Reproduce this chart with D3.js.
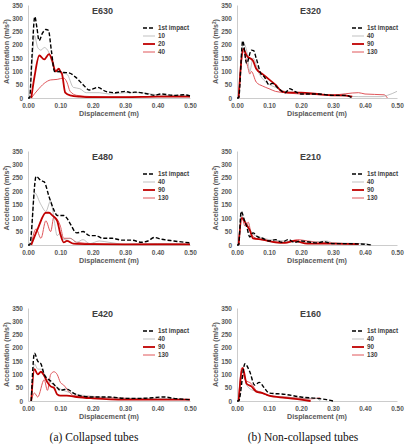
<!DOCTYPE html>
<html>
<head>
<meta charset="utf-8">
<script src="https://cdn.jsdelivr.net/npm/d3@7"></script>
<style>
  body { margin:0; background:#fff; }
  svg { display:block; }
  .tick text { font-family:"Liberation Sans", Arial, sans-serif; font-weight:bold; fill:#595959; font-size:6.5px; }
  .axtitle { font-family:"Liberation Sans", Arial, sans-serif; font-weight:bold; fill:#595959; font-size:7.2px; }
  .ptitle { font-family:"Liberation Sans", Arial, sans-serif; font-weight:bold; fill:#404040; font-size:9px; }
  .leg { font-family:"Liberation Sans", Arial, sans-serif; font-weight:bold; fill:#404040; font-size:6.3px; }
  .cap { font-family:"Liberation Serif", "Times New Roman", serif; font-size:11.5px; fill:#111; }
</style>
</head>
<body>
<script>
// tick values
const xTicks = [0, 0.1, 0.2, 0.3, 0.4, 0.5]
const yTicks = [0, 50, 100, 150, 200, 250, 300, 350]

// panel names and legend labels
const titles = ["E630", "E320", "E480", "E210", "E420", "E160"]
const legendA = ["1st impact", "10", "20", "40"]
const legendB = ["1st impact", "40", "90", "130"]

// E630 (collapsed)
const e630_first = [[0,0],[0.005,0],[0.012,150],[0.021,306],[0.028,260],[0.034,216],[0.045,245],[0.055,258],[0.063,255],[0.072,180],[0.082,100],[0.098,100],[0.11,96],[0.125,95],[0.15,75],[0.17,50],[0.19,30],[0.215,40],[0.24,25],[0.27,20],[0.3,25],[0.32,20],[0.33,22],[0.37,15],[0.39,10],[0.41,15],[0.45,10],[0.48,12],[0.5,8]]
const e630_10 = [[0.005,0],[0.012,120],[0.02,235],[0.03,190],[0.04,180],[0.05,190],[0.065,170],[0.075,130],[0.085,100],[0.1,95],[0.12,90],[0.14,40],[0.16,35],[0.18,20],[0.22,20],[0.25,15],[0.3,20],[0.35,20],[0.38,15],[0.42,10],[0.5,10]]
const e630_20 = [[0.01,0],[0.02,80],[0.035,160],[0.05,145],[0.065,165],[0.075,140],[0.085,100],[0.095,110],[0.1,100],[0.105,90],[0.115,20],[0.13,10],[0.16,5],[0.2,3],[0.3,3],[0.4,5],[0.5,5]]
const e630_40 = [[0.01,0],[0.03,30],[0.05,55],[0.07,68],[0.09,70],[0.11,75],[0.12,60],[0.13,25],[0.15,10],[0.2,5],[0.3,3],[0.45,8],[0.5,5]]

// E320 (non-collapsed)
const e320_first = [[0,0],[0.005,0],[0.018,215],[0.03,130],[0.045,180],[0.052,178],[0.06,150],[0.075,90],[0.085,80],[0.1,50],[0.11,55],[0.13,35],[0.15,20],[0.165,35],[0.18,25],[0.2,15],[0.25,15],[0.3,10],[0.34,10],[0.36,0]]
const e320_40 = [[0.005,0],[0.02,205],[0.03,180],[0.04,100],[0.05,150],[0.07,90],[0.09,60],[0.12,40],[0.15,25],[0.2,20],[0.3,10],[0.38,5],[0.45,5],[0.47,10],[0.5,25]]
const e320_90 = [[0.005,0],[0.02,185],[0.03,160],[0.05,140],[0.06,110],[0.08,90],[0.1,70],[0.12,50],[0.14,25],[0.16,20],[0.2,20],[0.25,15],[0.3,10],[0.33,10],[0.36,5]]
const e320_130 = [[0.005,0],[0.02,175],[0.035,110],[0.04,90],[0.045,100],[0.06,60],[0.08,45],[0.1,35],[0.12,25],[0.15,20],[0.2,15],[0.3,12],[0.38,20],[0.4,15],[0.46,12],[0.47,0]]

// E480 (collapsed)
const e480_first = [[0,0],[0.005,0],[0.025,255],[0.04,240],[0.05,235],[0.065,180],[0.08,130],[0.09,110],[0.11,110],[0.12,100],[0.13,80],[0.15,45],[0.17,50],[0.19,35],[0.21,35],[0.23,25],[0.26,25],[0.29,18],[0.32,18],[0.35,10],[0.37,15],[0.39,28],[0.41,22],[0.45,15],[0.5,8]]
const e480_40 = [[0.01,0],[0.02,195],[0.04,150],[0.055,125],[0.07,165],[0.08,100],[0.09,35],[0.1,45],[0.11,20],[0.13,25],[0.15,10],[0.17,20],[0.19,5],[0.22,15],[0.25,10],[0.3,3],[0.4,5],[0.5,3]]
const e480_90 = [[0.01,0],[0.03,60],[0.055,120],[0.065,120],[0.075,110],[0.09,90],[0.1,40],[0.11,10],[0.12,15],[0.14,5],[0.2,3],[0.3,2],[0.5,2]]
const e480_130 = [[0.01,0],[0.025,60],[0.04,25],[0.055,90],[0.07,50],[0.08,105],[0.1,70],[0.11,25],[0.13,25],[0.15,10],[0.2,5],[0.3,2],[0.4,5],[0.5,3]]

// E210 (non-collapsed)
const e210_first = [[0,0],[0.005,0],[0.013,125],[0.025,85],[0.03,70],[0.04,30],[0.05,45],[0.065,30],[0.08,25],[0.1,15],[0.12,20],[0.14,10],[0.16,20],[0.18,10],[0.2,15],[0.23,10],[0.25,8],[0.27,12],[0.3,5],[0.35,5],[0.4,3],[0.42,0]]
const e210_40 = [[0.005,0],[0.013,110],[0.03,80],[0.04,60],[0.05,40],[0.07,30],[0.1,20],[0.15,15],[0.2,10],[0.25,12],[0.28,15],[0.3,8],[0.4,5],[0.42,0]]
const e210_90 = [[0.005,0],[0.015,100],[0.03,75],[0.04,55],[0.05,25],[0.08,20],[0.12,10],[0.15,8],[0.18,15],[0.22,5],[0.3,5],[0.38,3]]
const e210_130 = [[0.005,0],[0.015,105],[0.025,70],[0.035,85],[0.045,40],[0.06,25],[0.1,15],[0.15,10],[0.19,20],[0.22,15],[0.28,8],[0.35,5],[0.38,3]]

// E420 (collapsed)
const e420_first = [[0.01,0],[0.02,180],[0.03,150],[0.04,140],[0.05,100],[0.07,75],[0.09,50],[0.1,40],[0.12,45],[0.14,30],[0.16,20],[0.2,15],[0.25,15],[0.3,10],[0.35,10],[0.42,15],[0.45,10],[0.5,5]]
const e420_40 = [[0.01,0],[0.02,140],[0.03,120],[0.04,120],[0.06,80],[0.08,60],[0.1,45],[0.12,35],[0.15,25],[0.18,20],[0.22,15],[0.3,10],[0.4,10],[0.5,5]]
const e420_90 = [[0.01,0],[0.02,120],[0.03,100],[0.04,110],[0.05,95],[0.06,70],[0.07,55],[0.08,50],[0.09,25],[0.1,20],[0.12,20],[0.15,15],[0.2,10],[0.3,5],[0.5,5]]
const e420_130 = [[0.01,0],[0.02,30],[0.03,15],[0.05,80],[0.06,40],[0.07,100],[0.08,110],[0.09,100],[0.1,70],[0.11,60],[0.13,30],[0.14,20],[0.2,15],[0.3,10],[0.5,5]]

// E160 (non-collapsed)
const e160_first = [[0,0],[0.005,0],[0.025,140],[0.04,110],[0.055,60],[0.07,70],[0.085,50],[0.1,30],[0.15,25],[0.2,15],[0.25,10],[0.28,5],[0.3,0]]
const e160_40 = [[0.005,0],[0.02,110],[0.03,60],[0.05,40],[0.07,35],[0.1,20],[0.15,15],[0.2,10],[0.25,10],[0.26,0]]
const e160_90 = [[0.005,0],[0.018,125],[0.03,65],[0.045,55],[0.06,35],[0.08,30],[0.1,20],[0.15,12],[0.2,5],[0.23,0]]
const e160_130 = [[0.005,0],[0.015,125],[0.025,80],[0.045,65],[0.06,40],[0.07,35],[0.1,20],[0.15,15],[0.2,10],[0.23,8],[0.26,12]]

const seriesByPanel = [
  [e630_first, e630_10, e630_20, e630_40],
  [e320_first, e320_40, e320_90, e320_130],
  [e480_first, e480_40, e480_90, e480_130],
  [e210_first, e210_40, e210_90, e210_130],
  [e420_first, e420_40, e420_90, e420_130],
  [e160_first, e160_40, e160_90, e160_130]
]

// line styles for the 4 series
const styles = [
  {stroke:"#000", width:1.4, dash:"4,2"},
  {stroke:"#a6a6a6", width:0.7, dash:null},
  {stroke:"#c00000", width:1.8, dash:null},
  {stroke:"#e0565b", width:1.0, dash:null}
]

const W = 407, H = 446
const colX = [[28,190],[237,397]]
const rowY = [[5,98],[151,245],[308,401]]

var svg = d3.select("body").append("svg")
  .attr("width", W).attr("height", H)

seriesByPanel.forEach(function(series, p) {
  var col = p % 2, row = Math.floor(p / 2)
  var x = d3.scaleLinear().domain([0, 0.5]).range(colX[col])
  var y = d3.scaleLinear().domain([0, 350]).range([rowY[row][1], rowY[row][0]])
  var g = svg.append("g")

  g.append("g")
    .attr("transform", "translate(0," + y(0) + ")")
    .call(d3.axisBottom(x).tickValues(xTicks).tickFormat(d3.format(".2f")).tickSize(0).tickPadding(5))
  g.append("g")
    .attr("transform", "translate(" + x(0) + ",0)")
    .call(d3.axisLeft(y).tickValues(yTicks).tickSize(0).tickPadding(5))
  g.selectAll(".domain").attr("stroke", "#bfbfbf").attr("stroke-width", 0.8)

  g.append("text").attr("class", "axtitle")
    .attr("x", (colX[col][0] + colX[col][1]) / 2).attr("y", y(0) + 18)
    .attr("text-anchor", "middle").text("Displacement (m)")
  var yt = g.append("text").attr("class", "axtitle")
    .attr("transform", "translate(" + (x(0) - 19) + "," + ((rowY[row][0] + rowY[row][1]) / 2) + ") rotate(-90)")
    .attr("text-anchor", "middle")
  yt.append("tspan").text("Acceleration (m/s")
  yt.append("tspan").attr("dy", -2.5).attr("font-size", "4.8px").text("2")
  yt.append("tspan").attr("dy", 2.5).text(")")

  g.append("text").attr("class", "ptitle")
    .attr("x", x(0.23)).attr("y", y(318)).attr("text-anchor", "middle").text(titles[p])

  var line = d3.line()
    .x(function(d) { return x(d[0]) })
    .y(function(d) { return y(d[1]) })
    .curve(d3.curveMonotoneX)

  // draw back to front: 40/130, 10/40, 20/90, 1st impact
  ;[3, 1, 2, 0].forEach(function(i) {
    var s = styles[i]
    g.append("path").datum(series[i])
      .attr("d", line)
      .attr("fill", "none")
      .attr("stroke", s.stroke)
      .attr("stroke-width", s.width)
      .attr("stroke-dasharray", s.dash)
      .attr("stroke-linejoin", "round")
  })

  var labels = p == 0 ? legendA : legendB
  labels.forEach(function(lab, i) {
    var ly = rowY[row][0] + 23 + i * 8
    var lx = x(0) + 115
    var s = styles[i]
    g.append("line")
      .attr("x1", lx).attr("x2", lx + 12).attr("y1", ly).attr("y2", ly)
      .attr("stroke", s.stroke).attr("stroke-width", s.width)
      .attr("stroke-dasharray", s.dash)
    g.append("text").attr("class", "leg")
      .attr("x", lx + 15).attr("y", ly + 2.2).text(lab)
  })
})

svg.append("text").attr("class", "cap").attr("x", 94).attr("y", 441)
  .attr("text-anchor", "middle").text("(a) Collapsed tubes")
svg.append("text").attr("class", "cap").attr("x", 303).attr("y", 441)
  .attr("text-anchor", "middle").text("(b) Non-collapsed tubes")
</script>
</body>
</html>
